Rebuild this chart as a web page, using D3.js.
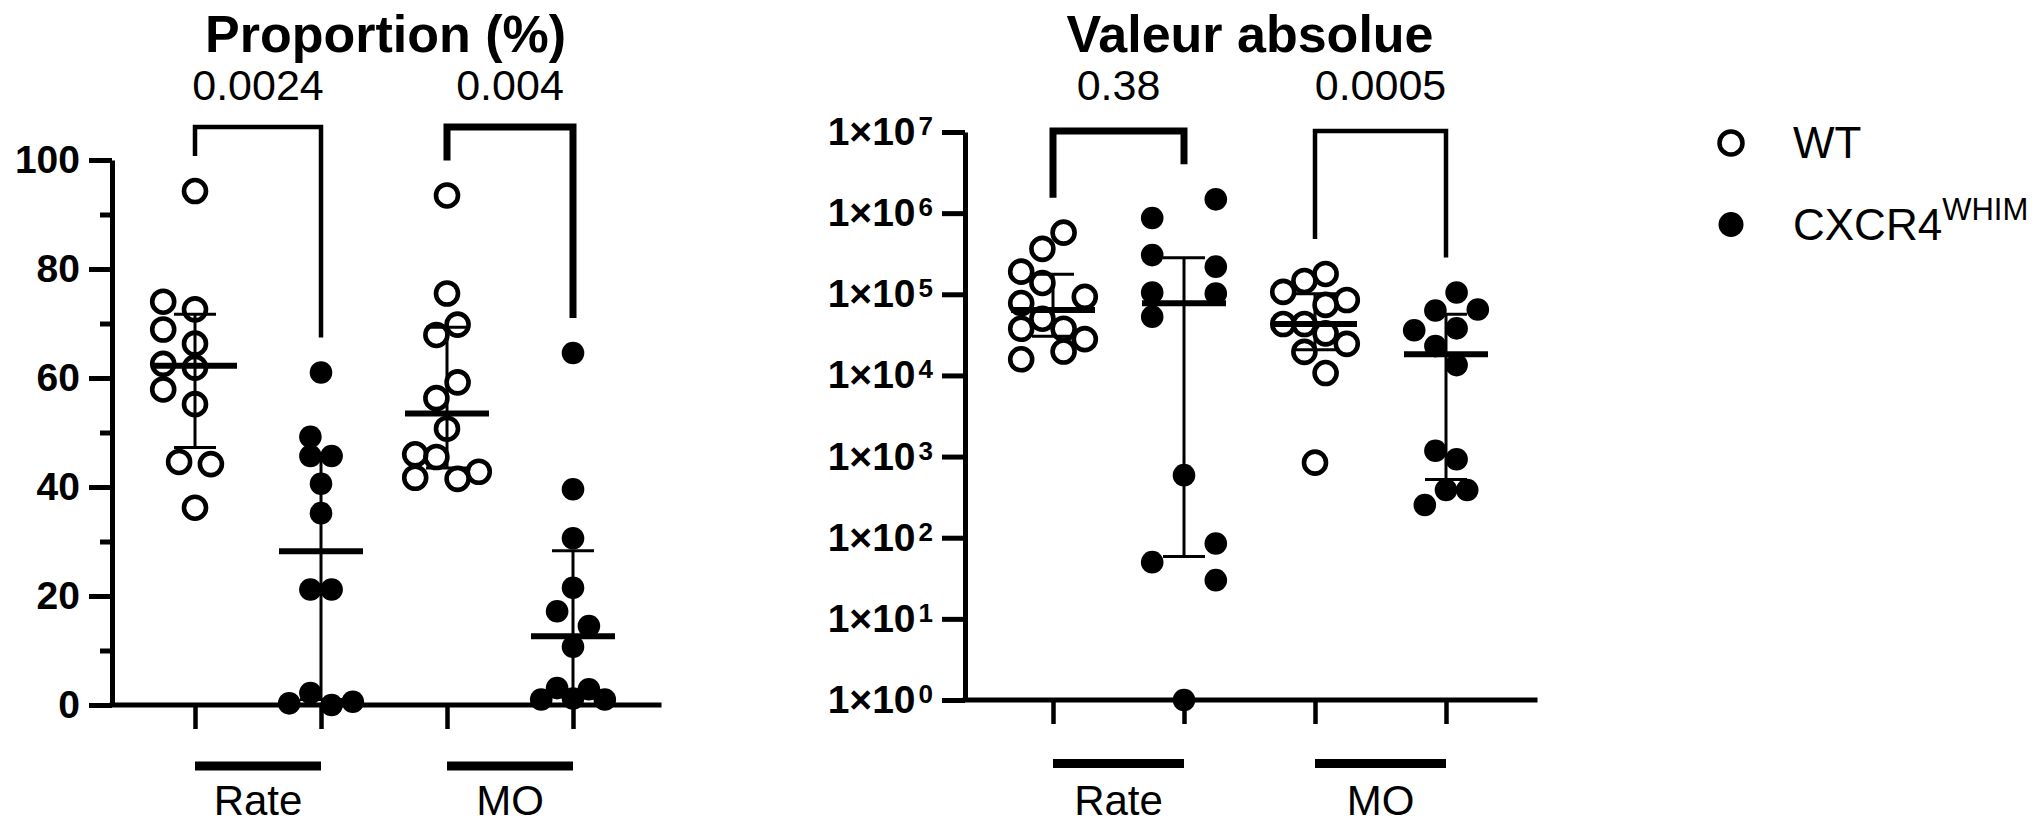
<!DOCTYPE html>
<html>
<head>
<meta charset="utf-8">
<script src="https://cdn.jsdelivr.net/npm/d3@7"></script>
<style>
	body { margin: 0; background: #fff; }
	svg { display: block; }
	text { font-family: Arial, "Liberation Sans", sans-serif; fill: #000; }
</style>
</head>
<body>
<svg id="chart"></svg>
<script>
var groups = ["Rate", "MO"];
var genotypes = ["WT", "CXCR4"];

var pctTicks = [0, 20, 40, 60, 80, 100];
var pctMinorTicks = [10, 30, 50, 70, 90];
var absTicks = [1, 1e1, 1e2, 1e3, 1e4, 1e5, 1e6, 1e7];

var pctPValues = ["0.0024", "0.004"];
var absPValues = ["0.38", "0.0005"];

// proportion (%) per mouse, with the column slot each dot sits in
var pctRateWT = [94.3, 74.0, 72.6, 68.9, 66.3, 62.6, 61.9, 57.9, 55.2, 44.6, 44.2, 36.2];
var pctRateWTSlot = [0, -3, 0, -3, 0, -3, 0, -3, 0, -1.5, 1.5, 0];
var pctRateCX = [61.0, 49.2, 45.7, 45.7, 40.6, 35.2, 21.2, 21.2, 2.2, 0.3, 0.0, 0.6];
var pctRateCXSlot = [0, -1, -1, 1, 0, 0, -1, 1, -1, -3, 1, 3];
var pctMoWT = [93.5, 75.5, 69.8, 67.9, 59.2, 56.3, 50.7, 46.0, 45.5, 42.8, 41.7, 41.5];
var pctMoWTSlot = [0, 0, 1, -1, 1, -1, 0, -3, -1, 3, -3, 1];
var pctMoCX = [64.6, 39.6, 30.6, 21.5, 17.2, 14.5, 10.7, 3.1, 2.9, 1.0, 1.0, 1.2];
var pctMoCXSlot = [0, 0, 0, 0, -1.5, 1.5, 0, -1.5, 1.5, -3, 3, 0];

// absolute counts per mouse
var absRateWT = [575000, 363000, 190000, 138000, 93000, 78000, 50000, 37600, 37600, 28000, 19700, 15800];
var absRateWTSlot = [1, -1, -3, -1, 3, -3, -1, -3, 1, 3, 1, -3];
var absRateCX = [1480000, 870000, 304000, 219000, 105000, 102000, 53000, 590, 85, 50, 30, 1];
var absRateCXSlot = [3, -3, -3, 3, -3, 3, -3, 0, 3, -3, 3, 0];
var absMoWT = [178000, 146000, 107000, 85000, 74000, 43000, 43000, 33000, 24500, 19500, 10700, 841];
var absMoWTSlot = [1, -1, -3, 3, 1, -3, -1, 1, 3, -1, 1, 0];
var absMoCX = [105000, 63000, 65000, 36000, 38000, 23000, 13400, 1180, 925, 388, 388, 253];
var absMoCXSlot = [1, -1, 3, -3, 1, -1, 1, -1, 1, 0, 2, -2];


function Column(group, genotype, values, slots) {
	this.key = group + " " + genotype;
	this.group = group;
	this.genotype = genotype;
	this.values = values;
	this.slots = slots;
}

// quartiles the way Prism does them, position p*(n+1)
function PrismQuantile(values, p) {
	var s = values.slice().sort(d3.ascending);
	var pos = p * (s.length + 1);
	var lo = Math.floor(pos);
	if (lo < 1) return s[0];
	if (lo >= s.length) return s[s.length - 1];
	return s[lo - 1] + (pos - lo) * (s[lo] - s[lo - 1]);
}

var pctColumns = [
	new Column("Rate", "WT", pctRateWT, pctRateWTSlot),
	new Column("Rate", "CXCR4", pctRateCX, pctRateCXSlot),
	new Column("MO", "WT", pctMoWT, pctMoWTSlot),
	new Column("MO", "CXCR4", pctMoCX, pctMoCXSlot)
];
var absColumns = [
	new Column("Rate", "WT", absRateWT, absRateWTSlot),
	new Column("Rate", "CXCR4", absRateCX, absRateCXSlot),
	new Column("MO", "WT", absMoWT, absMoWTSlot),
	new Column("MO", "CXCR4", absMoCX, absMoCXSlot)
];

var svg = d3.select("#chart").attr("width", 2044).attr("height", 824);

var slotScale = d3.scaleLinear().domain([-1, 1]).range([-10.6, 10.6]);

var xPct = d3.scalePoint().domain(pctColumns.map(function(c) { return c.key; })).range([195, 573]);
var yPct = d3.scaleLinear().domain([0, 100]).range([705, 160]);
var xAbs = d3.scalePoint().domain(absColumns.map(function(c) { return c.key; })).range([1053, 1446]);
var yAbs = d3.scaleLog().domain([1, 1e7]).range([700, 132]);

function StyleAxis(ga) {
	ga.attr("font-family", null).attr("font-size", null);
	ga.select(".domain").attr("stroke-width", 5);
	ga.selectAll(".tick line").attr("stroke-width", 5);
	ga.selectAll(".tick text")
		.attr("font-size", 39)
		.attr("font-weight", "bold")
		.attr("fill", "#000");
}

function DrawPctAxis(g) {
	var major = d3.axisLeft(yPct).tickValues(pctTicks).tickSize(23).tickSizeOuter(0).tickPadding(9);
	var ga = g.append("g").attr("transform", "translate(112,0)").call(major);
	StyleAxis(ga);

	var minor = d3.axisLeft(yPct).tickValues(pctMinorTicks).tickSize(12).tickSizeOuter(0)
		.tickFormat(function() { return ""; });
	var gm = g.append("g").attr("transform", "translate(112,0)").call(minor);
	gm.select(".domain").remove();
	gm.selectAll(".tick line").attr("stroke-width", 5);
}

function DrawAbsAxis(g) {
	var major = d3.axisLeft(yAbs).tickValues(absTicks).tickSize(23).tickSizeOuter(0).tickPadding(9)
		.tickFormat(function() { return ""; });
	var ga = g.append("g").attr("transform", "translate(965,0)").call(major);
	StyleAxis(ga);
	ga.selectAll(".tick text").each(function(d) {
		var t = d3.select(this);
		t.append("tspan").text("1×10");
		t.append("tspan")
			.attr("font-size", 26)
			.attr("dx", 3)
			.attr("dy", -10)
			.text(Math.round(Math.log10(d)));
	});
}

function DrawPanel(cfg) {
	var g = svg.append("g");
	var x = cfg.x, y = cfg.y;
	var base = y.range()[0];

	g.append("text")
		.attr("x", (cfg.left + cfg.right) / 2)
		.attr("y", 52)
		.attr("text-anchor", "middle")
		.attr("font-size", 52)
		.attr("font-weight", "bold")
		.text(cfg.title);

	cfg.drawYAxis(g);

	g.append("line")
		.attr("x1", cfg.left).attr("x2", cfg.right)
		.attr("y1", base).attr("y2", base)
		.attr("stroke", "#000")
		.attr("stroke-width", 5)
		.attr("stroke-linecap", "square");

	var xAxis = d3.axisBottom(x).tickSize(24).tickSizeOuter(0).tickFormat(function() { return ""; });
	var gx = g.append("g").attr("transform", "translate(0," + base + ")").call(xAxis);
	gx.select(".domain").remove();
	gx.selectAll(".tick line").attr("stroke-width", 4.5);

	// dots, then median with interquartile range on top
	cfg.columns.forEach(function(col) {
		var cx = x(col.key);
		var isWT = col.genotype === "WT";
		var pts = col.values.map(function(v, i) { return { v: v, s: col.slots[i] }; });

		g.append("g").selectAll("circle")
			.data(pts)
			.enter().append("circle")
			.attr("cx", function(d) { return cx + slotScale(d.s); })
			.attr("cy", function(d) { return y(Math.max(d.v, y.domain()[0])); })
			.attr("r", isWT ? 11 : 11.3)
			.attr("fill", isWT ? "none" : "#000")
			.attr("stroke", isWT ? "#000" : "none")
			.attr("stroke-width", 4.6);

		var med = PrismQuantile(col.values, 0.5);
		var q1 = PrismQuantile(col.values, 0.25);
		var q3 = PrismQuantile(col.values, 0.75);
		var eb = g.append("g").attr("stroke", "#000");
		eb.append("line").attr("x1", cx).attr("x2", cx).attr("y1", y(q1)).attr("y2", y(q3)).attr("stroke-width", 3);
		[q1, q3].forEach(function(q) {
			eb.append("line").attr("x1", cx - 21).attr("x2", cx + 21).attr("y1", y(q)).attr("y2", y(q)).attr("stroke-width", 3);
		});
		eb.append("line").attr("x1", cx - 42).attr("x2", cx + 42).attr("y1", y(med)).attr("y2", y(med)).attr("stroke-width", 6);
	});

	groups.forEach(function(grp, i) {
		var a = cfg.columns[2 * i], b = cfg.columns[2 * i + 1];
		var xa = x(a.key), xb = x(b.key);
		var ya = y(d3.max(a.values)) - 35;
		var yb = y(d3.max(b.values)) - 35;

		g.append("path")
			.attr("d", "M" + xa + "," + ya + "V" + cfg.bracketTop + "H" + xb + "V" + yb)
			.attr("fill", "none")
			.attr("stroke", "#000")
			.attr("stroke-width", cfg.bracketWidths[i]);

		g.append("text")
			.attr("x", (xa + xb) / 2)
			.attr("y", 100)
			.attr("text-anchor", "middle")
			.attr("font-size", 43)
			.text(cfg.pValues[i]);

		g.append("line")
			.attr("x1", xa).attr("x2", xb)
			.attr("y1", cfg.groupBarY).attr("y2", cfg.groupBarY)
			.attr("stroke", "#000")
			.attr("stroke-width", 9);

		g.append("text")
			.attr("x", (xa + xb) / 2)
			.attr("y", 815)
			.attr("text-anchor", "middle")
			.attr("font-size", 42)
			.text(grp);
	});
}

DrawPanel({
	title: "Proportion (%)",
	columns: pctColumns,
	x: xPct,
	y: yPct,
	left: 112,
	right: 659,
	drawYAxis: DrawPctAxis,
	pValues: pctPValues,
	bracketTop: 127,
	bracketWidths: [4.5, 7],
	groupBarY: 766
});

DrawPanel({
	title: "Valeur absolue",
	columns: absColumns,
	x: xAbs,
	y: yAbs,
	left: 965,
	right: 1535,
	drawYAxis: DrawAbsAxis,
	pValues: absPValues,
	bracketTop: 131,
	bracketWidths: [7, 4.5],
	groupBarY: 763.5
});

// legend
var legend = svg.append("g");
genotypes.forEach(function(gt, i) {
	var ly = 143 + i * 81.5;
	var isWT = gt === "WT";
	legend.append("circle")
		.attr("cx", 1731)
		.attr("cy", ly)
		.attr("r", isWT ? 11.5 : 12.5)
		.attr("fill", isWT ? "none" : "#000")
		.attr("stroke", isWT ? "#000" : "none")
		.attr("stroke-width", 4.5);
	var t = legend.append("text")
		.attr("x", 1793)
		.attr("y", ly + 15)
		.attr("font-size", 44)
		.attr("fill", "#111");
	if (isWT) {
		t.text(gt);
	} else {
		t.append("tspan").text(gt);
		t.append("tspan").attr("font-size", 31).attr("dy", -20).text("WHIM");
	}
});
</script>
</body>
</html>
